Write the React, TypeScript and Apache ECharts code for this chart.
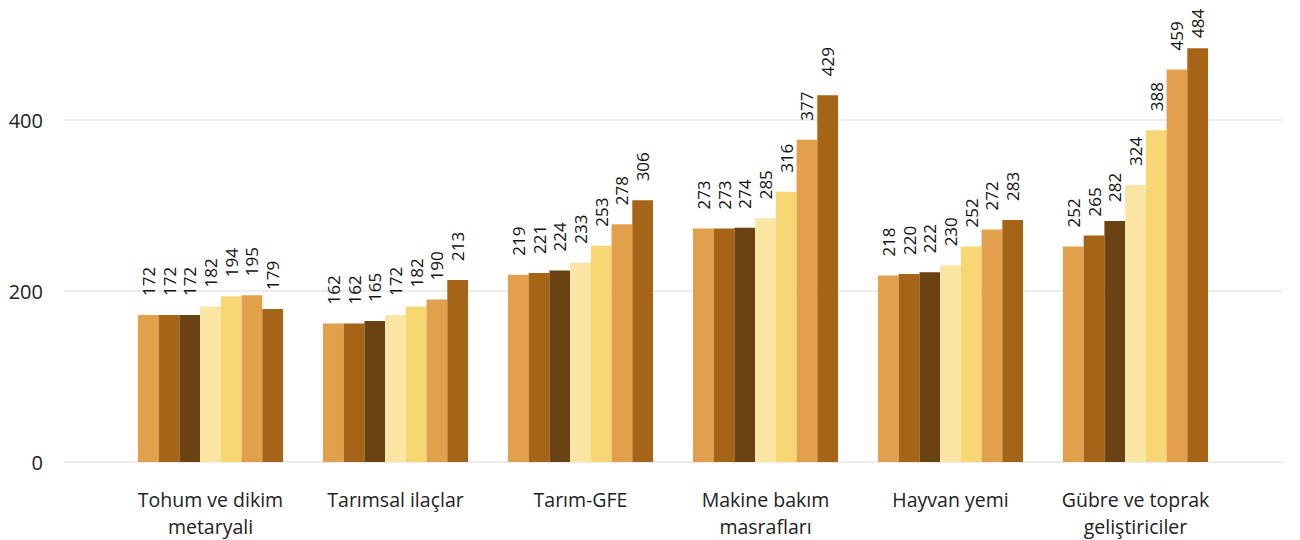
import React, { useEffect, useRef } from "react";
import * as echarts from "echarts";

const categories = [
  "Tohum ve dikim\nmetaryali",
  "Tarımsal ilaçlar",
  "Tarım-GFE",
  "Makine bakım\nmasrafları",
  "Hayvan yemi",
  "Gübre ve toprak\ngeliştiriciler",
];
const s1 = [172, 162, 219, 273, 218, 252];
const s2 = [172, 162, 221, 273, 220, 265];
const s3 = [172, 165, 224, 274, 222, 282];
const s4 = [182, 172, 233, 285, 230, 324];
const s5 = [194, 182, 253, 316, 252, 388];
const s6 = [195, 190, 278, 377, 272, 459];
const s7 = [179, 213, 306, 429, 283, 484];
const seriesData = [s1, s2, s3, s4, s5, s6, s7];
const colors = ["#E3A04C", "#A66516", "#6B4211", "#FAE5A3", "#F7D774", "#E3A04C", "#A66516"];
const yTicks = [0, 200, 400];

const FONT = "'Open Sans', 'Noto Sans', sans-serif";

export default function App() {
  const ref = useRef<HTMLDivElement>(null);
  useEffect(() => {
    if (!ref.current) return;
    const chart = echarts.init(ref.current, null, { renderer: "svg" });
    const top = 34.5;
    const bottom = 78;
    const yMax = 500;
    const plotH = 540 - top - bottom;
    // Labels that would run past the top of the canvas are pulled down toward the bar
    const labelLen = 28;
    const minTop = 10;
    const baseDist = 19;
    const distFor = (v: number) => {
      const barTop = top + plotH * (1 - v / yMax);
      const avail = barTop - labelLen - minTop;
      return Math.max(4, Math.min(baseDist, avail));
    };
    chart.setOption({
      animation: false,
      grid: [
        { left: 64, right: 18, top, bottom },
        { left: 118, right: 72, top, bottom },
      ],
      xAxis: [
        { gridIndex: 0, type: "value", show: false, min: 0, max: 1 },
        {
          gridIndex: 1,
          type: "category",
          data: categories,
          axisLine: { show: false },
          axisTick: { show: false },
          axisLabel: {
            fontFamily: FONT,
            fontSize: 19.5,
            color: "#222222",
            margin: 24,
            lineHeight: 27,
            interval: 0,
          },
        },
      ],
      yAxis: [
        {
          gridIndex: 0,
          type: "value",
          min: 0,
          max: yMax,
          interval: 200,
          axisLine: { show: false },
          axisTick: { show: false },
          splitLine: { show: true, showMaxLine: false, lineStyle: { color: "#E6E6E6", width: 1.5 } },
          axisLabel: {
            fontFamily: FONT,
            fontSize: 20,
            color: "#222222",
            margin: 21,
            showMaxLabel: false,
            formatter: (v: number) => (yTicks.includes(v) ? String(v) : ""),
          },
        },
        {
          gridIndex: 1,
          type: "value",
          min: 0,
          max: yMax,
          show: false,
          splitLine: { show: false },
        },
      ],
      series: seriesData.map((d, i) => ({
        type: "bar",
        xAxisIndex: 1,
        yAxisIndex: 1,
        data: d.map((v) => ({ value: v, label: { distance: distFor(v) } })),
        barGap: "0%",
        barCategoryGap: "21.6%",
        itemStyle: { color: colors[i] },
        label: {
          show: true,
          position: "top",
          rotate: 90,
          align: "left",
          verticalAlign: "middle",
          distance: baseDist,
          fontFamily: FONT,
          fontSize: 17,
          color: "#111111",
        },
      })),
    });
    return () => chart.dispose();
  }, []);
  return (
    <div
      ref={ref}
      style={{ position: "fixed", left: 0, top: 0, width: 1300, height: 540, background: "#fff" }}
    />
  );
}
